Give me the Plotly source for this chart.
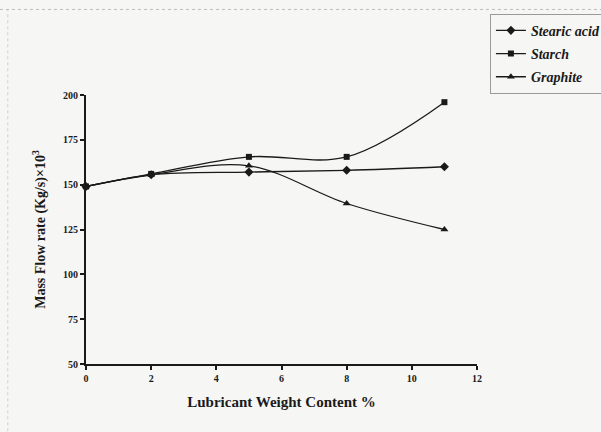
import plotly.graph_objects as go

content = [0, 2, 5, 8, 11]
stearic_acid = [149, 155.5, 157, 158, 160]
starch = [149, 156, 165.5, 165.5, 196]
graphite = [149, 155.5, 160.5, 139.5, 125]

x_ticks = [0, 2, 4, 6, 8, 10, 12]
y_ticks = [50, 75, 100, 125, 150, 175, 200]

FONT = "Liberation Serif, Times New Roman, serif"
bg = "#f6f6f4"

fig = go.Figure()
series = [
    ("Stearic acid", stearic_acid, "diamond", 7),
    ("Starch", starch, "square", 6),
    ("Graphite", graphite, "triangle-up", 7),
]
for i, (name, vals, sym, sz) in enumerate(series):
    fig.add_trace(go.Scatter(
        x=content, y=vals, name=name, mode="lines+markers",
        line=dict(color="#1a1a1a", width=1.3, shape="spline", smoothing=1),
        marker=dict(symbol=sym, size=sz, color="#1a1a1a"),
        legendgroup=f"g{i}", cliponaxis=False,
    ))

fig.update_layout(
    width=601, height=432,
    margin=dict(l=86, r=124, t=95, b=68, autoexpand=False),
    paper_bgcolor=bg, plot_bgcolor=bg,
    font=dict(family=FONT, color="#1a1a1a"),
    showlegend=True,
    legend=dict(
        x=1.033, y=1.302, xanchor="left", yanchor="top",
        bgcolor="rgba(0,0,0,0)", bordercolor="#9a9a9a", borderwidth=1,
        font=dict(family=FONT, size=14, color="#1a1a1a", style="italic", weight="bold"),
        tracegroupgap=2, itemwidth=30,
    ),
    xaxis=dict(
        range=[0, 12], tickvals=x_ticks, ticktext=[str(v) for v in x_ticks],
        showgrid=False, zeroline=False, showline=True, linecolor="#1a1a1a", linewidth=2,
        ticks="outside", ticklen=4, tickwidth=1.5, tickcolor="#1a1a1a",
        tickfont=dict(family=FONT, size=10, weight="bold"),
        title=dict(text="Lubricant Weight Content %", standoff=13,
                   font=dict(family=FONT, size=15, weight="bold")),
    ),
    yaxis=dict(
        range=[50, 200], tickvals=y_ticks, ticktext=[str(v) for v in y_ticks],
        showgrid=False, zeroline=False, showline=True, linecolor="#1a1a1a", linewidth=2,
        ticks="outside", ticklen=4, tickwidth=1.5, tickcolor="#1a1a1a",
        tickfont=dict(family=FONT, size=10, weight="bold"),
        title=dict(text="Mass Flow rate (Kg/s)×10<sup>3</sup>", standoff=14,
                   font=dict(family=FONT, size=14, weight="bold")),
    ),
)

# faint scanned page frame
fig.add_shape(type="line", xref="paper", yref="paper", x0=-0.22, x1=1.32, y0=1.318, y1=1.318,
              line=dict(color="#bdbdbd", width=1, dash="dot"))
fig.add_shape(type="line", xref="paper", yref="paper", x0=-0.2, x1=-0.2, y0=-0.25, y1=1.318,
              line=dict(color="#cfcfcf", width=1, dash="dot"))

fig.write_html("out.html", config={"displayModeBar": False},
               post_script="document.body.style.margin='0';")
